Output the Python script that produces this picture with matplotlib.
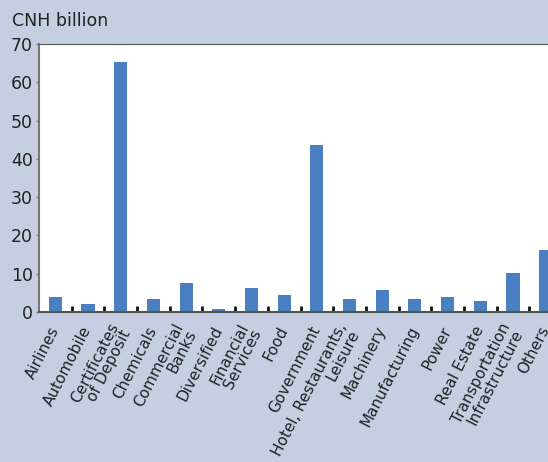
import numpy as np
import matplotlib
matplotlib.use("Agg")
import matplotlib.pyplot as plt
from matplotlib.ticker import FixedLocator

categories = [
    "Airlines", "Automobile", "Certificates\nof Deposit", "Chemicals",
    "Commercial\nBanks", "Diversified", "Financial\nServices", "Food",
    "Government", "Hotel, Restaurants,\nLeisure", "Machinery", "Manufacturing",
    "Power", "Real Estate", "Transportation\nInfrastructure", "Others",
]
values = [3.9, 2.1, 65.3, 3.4, 7.6, 0.8, 6.3, 4.4, 43.6, 3.4, 5.7, 3.4, 3.9, 2.9, 10.2, 16.2]
y_ticks = [0, 10, 20, 30, 40, 50, 60, 70]

bg = "#c5cfe1"
bar_color = "#4a7fc1"
text_color = "#222222"

fig = plt.figure(figsize=(5.48, 4.62), dpi=100, facecolor=bg)
# axes runs past the right edge of the figure, as in the original
ax = fig.add_axes([39 / 548, 1 - 312 / 462, 523 / 548, 268 / 462])
ax.set_facecolor("white")

x = np.arange(len(categories))
ax.bar(x, values, width=0.4, color=bar_color)

ax.set_xlim(-0.5, len(categories) - 0.5)
ax.set_ylim(0, 70)
ax.set_yticks(y_ticks)
ax.tick_params(axis="y", labelsize=12.5, colors="#777777", labelcolor=text_color,
               length=2.5, width=1, direction="out", pad=2)

ax.set_xticks(x)
ax.set_xticklabels(categories, rotation=63, ha="right", va="center",
                   rotation_mode="anchor", fontsize=11, color=text_color,
                   linespacing=0.9)
ax.tick_params(axis="x", which="major", length=0, pad=11)
ax.xaxis.set_minor_locator(FixedLocator(x[:-1] + 0.5))
ax.tick_params(axis="x", which="minor", direction="in", length=4, width=2, color="#111111")

for lbl in ax.get_xticklabels():
    lbl.set_multialignment("right")

ax.spines["top"].set_color("#555555")
ax.spines["left"].set_color("#777777")
ax.spines["left"].set_linewidth(1.5)
ax.spines["bottom"].set_color("#555555")
ax.spines["bottom"].set_linewidth(1.5)
ax.spines["right"].set_visible(False)

fig.text(12 / 548, 1 - 21 / 462, "CNH billion", fontsize=12.5, color=text_color, va="center")

fig.savefig("out.png", dpi=100, facecolor=bg)
